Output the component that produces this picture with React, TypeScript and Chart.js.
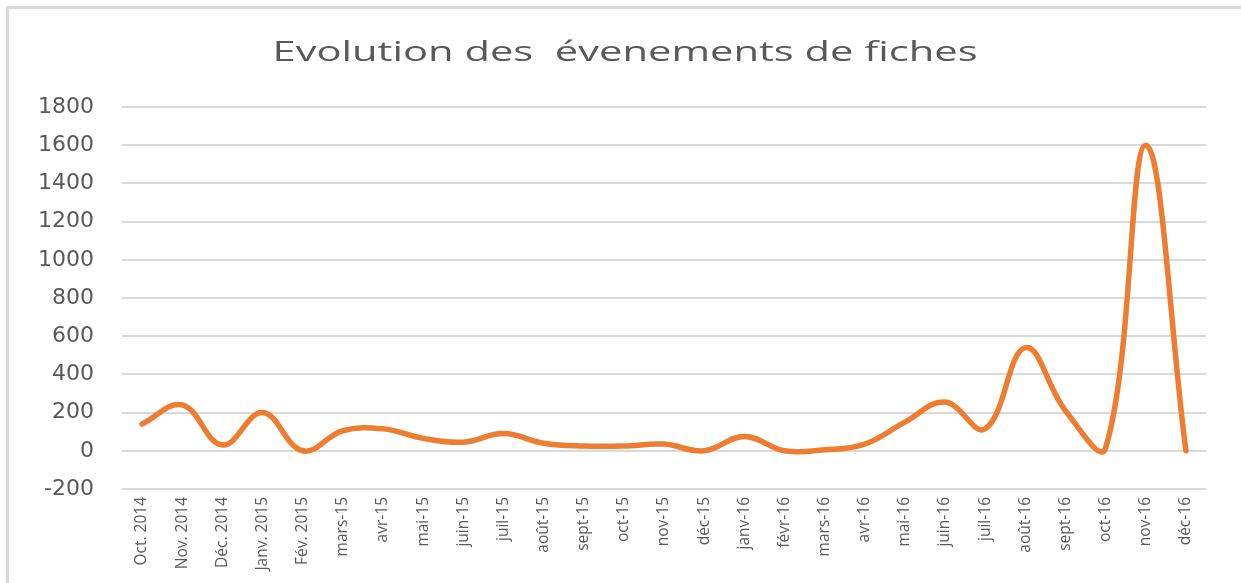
import React, { useEffect, useRef } from "react";
import { Chart, registerables } from "chart.js";

Chart.register(...registerables);

const TITLE = "Evolution des  évenements de fiches";

const MONTHS = [
  "Oct. 2014", "Nov. 2014", "Déc. 2014", "Janv. 2015", "Fév. 2015",
  "mars-15", "avr-15", "mai-15", "juin-15", "juil-15", "août-15", "sept-15",
  "oct-15", "nov-15", "déc-15", "janv-16", "févr-16", "mars-16", "avr-16",
  "mai-16", "juin-16", "juil-16", "août-16", "sept-16", "oct-16", "nov-16", "déc-16",
];

const EVENTS = [
  140, 240, 30, 200, 0,
  105, 115, 65, 45, 90, 40, 25,
  25, 35, 0, 75, 0, 5, 35,
  150, 255, 115, 540, 210, 15, 1600, 0,
];

const Y_MIN = -200;
const Y_MAX = 1800;
const Y_STEP = 200;

// Draws the chart title, stretched horizontally like the original picture.
const stretchedTitle = {
  id: "stretchedTitle",
  afterDraw(chart: any, _args: any, opts: any) {
    const ctx = chart.ctx as CanvasRenderingContext2D;
    ctx.save();
    ctx.font = `${opts.size}px ${opts.family}`;
    ctx.fillStyle = opts.color;
    ctx.textAlign = "center";
    ctx.textBaseline = "middle";
    const w = ctx.measureText(opts.text).width;
    const sx = opts.width / w;
    ctx.translate(opts.x, opts.y);
    ctx.scale(sx, 1);
    ctx.fillText(opts.text, 0, 0);
    ctx.restore();
  },
};

export default function App() {
  const canvasRef = useRef<HTMLCanvasElement | null>(null);

  useEffect(() => {
    const canvas = canvasRef.current;
    if (!canvas) return;
    const chart = new Chart(canvas, {
      type: "line",
      data: {
        labels: MONTHS,
        datasets: [
          {
            label: "Évènements",
            data: EVENTS,
            borderColor: "#ED7D31",
            backgroundColor: "#ED7D31",
            borderWidth: 5.5,
            pointRadius: 0,
            pointHoverRadius: 0,
            tension: 0.4,
            fill: false,
            borderCapStyle: "round",
            borderJoinStyle: "round",
          },
        ],
      },
      plugins: [stretchedTitle],
      options: {
        animation: false,
        responsive: false,
        maintainAspectRatio: false,
        layout: { padding: { left: 0, right: 35, top: 107, bottom: 0 } },
        plugins: {
          legend: { display: false },
          tooltip: { enabled: false },
          title: { display: false },
          stretchedTitle: {
            text: TITLE,
            family: "'Open Sans'",
            size: 28,
            color: "#595959",
            x: 625,
            y: 53,
            width: 705,
          },
        } as any,
        scales: {
          x: {
            type: "category",
            offset: true,
            grid: { display: false, drawTicks: false },
            border: { display: false },
            ticks: {
              color: "#595959",
              font: { family: "Open Sans", size: 15.5 },
              minRotation: 90,
              maxRotation: 90,
              autoSkip: false,
              padding: 8,
            },
            afterFit: (scale: any) => {
              scale.height = 94;
            },
          },
          y: {
            min: Y_MIN,
            max: Y_MAX,
            ticks: {
              stepSize: Y_STEP,
              color: "#595959",
              font: { family: "DejaVu Sans", size: 22 },
              padding: 28,
              callback: (v: any) => String(v),
            },
            grid: { color: "#d9d9d9", lineWidth: 2, drawTicks: false },
            border: { display: false },
            afterFit: (scale: any) => {
              scale.width = 122;
            },
          },
        },
      },
    });
    return () => chart.destroy();
  }, []);

  return (
    <div style={{ position: "fixed", left: 0, top: 0, width: 1241, height: 583, background: "#fff" }}>
      <div
        style={{
          position: "absolute",
          left: 6,
          top: 6,
          right: 0,
          bottom: 0,
          borderTop: "3px solid #d9d9d9",
          borderLeft: "3px solid #d9d9d9",
        }}
      />
      <canvas
        ref={canvasRef}
        width={1241}
        height={583}
        style={{ position: "absolute", left: 0, top: 0, width: 1241, height: 583 }}
      />
    </div>
  );
}
